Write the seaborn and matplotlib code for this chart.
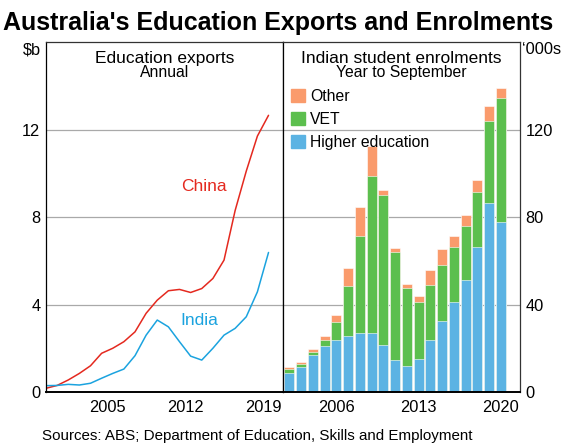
import numpy as np
import pandas as pd
import matplotlib
matplotlib.use("Agg")
import matplotlib.pyplot as plt
import seaborn as sns
from matplotlib.patches import Patch

# ==========================================================
# DATA
# ==========================================================

# Education exports, $b, annual (plotted at end of each year)
export_years = list(range(1999, 2020))
china_exports = [0.17, 0.30, 0.55, 0.85, 1.20, 1.77, 2.00, 2.30, 2.75, 3.60, 4.20,
                 4.63, 4.69, 4.55, 4.73, 5.19, 6.03, 8.30, 10.10, 11.70, 12.65]
india_exports = [0.29, 0.30, 0.35, 0.32, 0.40, 0.63, 0.85, 1.05, 1.66, 2.60, 3.29,
                 2.98, 2.30, 1.64, 1.46, 2.00, 2.60, 2.91, 3.44, 4.58, 6.38]

# Indian student enrolments, '000s, year to September
enrol_years = list(range(2002, 2021))
higher_ed = [8.5, 11.6, 16.9, 21.2, 24.0, 25.7, 26.8, 27.1, 21.3, 14.8,
             11.9, 15.1, 23.9, 32.4, 41.2, 51.1, 66.1, 86.3, 77.7]
vet = [2.1, 1.3, 1.4, 2.8, 8.1, 22.9, 44.6, 71.8, 68.7, 49.1,
       35.7, 26.0, 25.0, 25.7, 24.9, 24.9, 25.4, 37.4, 56.7]
other = [0.8, 0.9, 1.5, 1.7, 3.1, 7.9, 13.2, 13.4, 2.5, 2.0,
         1.9, 2.9, 7.1, 7.5, 5.3, 4.8, 5.3, 7.0, 4.6]

left_xlabels = [2005, 2012, 2019]
right_xlabels = [2006, 2013, 2020]

# colours
RED = "#E4291F"
BLUE = "#1BA3DF"
C_OTHER = "#FA9B6C"
C_VET = "#5CBF4E"
C_HE = "#5BB3E3"
GRID = "#A9A9A9"

# ==========================================================
# STYLE
# ==========================================================

sns.set_style("white")
plt.rcParams["font.family"] = ["Liberation Sans", "DejaVu Sans"]
plt.rcParams["font.size"] = 11.8
plt.rcParams["text.color"] = "black"
plt.rcParams["xtick.color"] = "black"
plt.rcParams["ytick.color"] = "black"
plt.rcParams["xtick.labelcolor"] = "black"
plt.rcParams["ytick.labelcolor"] = "black"

fig = plt.figure(figsize=(5.67, 4.43), dpi=100)
ax1 = fig.add_axes([0.0811, 0.1151, 0.418, 0.790])
ax2 = fig.add_axes([0.4991, 0.1151, 0.418, 0.790])

# ==========================================================
# LEFT PANEL - EDUCATION EXPORTS
# ==========================================================

df_exp = pd.DataFrame({
    "x": [y + 1.0 for y in export_years],
    "China": china_exports,
    "India": india_exports,
})

sns.lineplot(data=df_exp, x="x", y="China", ax=ax1, color=RED, linewidth=1.1)
sns.lineplot(data=df_exp, x="x", y="India", ax=ax1, color=BLUE, linewidth=1.1)

ax1.set_xlim(2000, 2021.3)
ax1.set_ylim(0, 16)
ax1.set_yticks([0, 4, 8, 12])
ax1.set_yticklabels(["0", "4", "8", "12"])
ax1.yaxis.grid(True, color=GRID, linewidth=0.9)
ax1.set_axisbelow(True)

ax1.set_xticks(range(2001, 2022))
ax1.set_xticklabels([])
ax1.set_xticks([y + 0.5 for y in left_xlabels], minor=True)
ax1.set_xticklabels([str(y) for y in left_xlabels], minor=True)
ax1.tick_params(axis="x", which="major", direction="in", length=5,
                width=1, color="black")
ax1.tick_params(axis="x", which="minor", length=0, pad=6)
ax1.tick_params(axis="y", length=0, pad=4)
ax1.set_xlabel("")
ax1.set_ylabel("")

ax1.text(0.5, 0.975, "Education exports", transform=ax1.transAxes,
         ha="center", va="top", fontsize=12.5)
ax1.text(0.5, 0.914, "Annual", transform=ax1.transAxes,
         ha="center", va="center", fontsize=11.3)
ax1.text(2014.2, 9.2, "China", color=RED, fontsize=12.5, ha="center")
ax1.text(2013.8, 3.05, "India", color=BLUE, fontsize=12.5, ha="center")
ax1.text(-0.02, 1.0, "$b", transform=ax1.transAxes, ha="right", va="top")

# ==========================================================
# RIGHT PANEL - INDIAN STUDENT ENROLMENTS (stacked bars)
# ==========================================================

he_vet = [h + v for h, v in zip(higher_ed, vet)]
total = [h + v + o for h, v, o in zip(higher_ed, vet, other)]

for values, colour in [(total, C_OTHER), (he_vet, C_VET), (higher_ed, C_HE)]:
    sns.barplot(x=enrol_years, y=values, ax=ax2, native_scale=True,
                color=colour, width=0.85, saturation=1,
                edgecolor="white", linewidth=0.4)

ax2.set_xlim(2001.46, 2021.62)
ax2.set_ylim(0, 160)
ax2.yaxis.tick_right()
ax2.set_yticks([0, 40, 80, 120])
ax2.set_yticklabels(["0", "40", "80", "120"])
ax2.yaxis.grid(True, color=GRID, linewidth=0.9)
ax2.set_axisbelow(True)

ax2.set_xticks([y + 0.5 for y in range(2001, 2021)])
ax2.set_xticklabels([])
ax2.set_xticks(right_xlabels, minor=True)
ax2.set_xticklabels([str(y) for y in right_xlabels], minor=True)
ax2.tick_params(axis="x", which="major", direction="in", length=5,
                width=1, color="black")
ax2.tick_params(axis="x", which="minor", length=0, pad=6)
ax2.tick_params(axis="y", length=0, pad=4)
ax2.set_xlabel("")
ax2.set_ylabel("")

ax2.text(0.5, 0.975, "Indian student enrolments", transform=ax2.transAxes,
         ha="center", va="top", fontsize=12.5)
ax2.text(0.5, 0.914, "Year to September", transform=ax2.transAxes,
         ha="center", va="center", fontsize=11.3)
ax2.text(1.01, 1.0, "\u2018000s", transform=ax2.transAxes, ha="left", va="top")

handles = [Patch(color=C_OTHER), Patch(color=C_VET), Patch(color=C_HE)]
ax2.legend(handles, ["Other", "VET", "Higher education"],
           loc="upper left", bbox_to_anchor=(0.035, 0.865), frameon=False,
           fontsize=11.3, handlelength=0.9, handleheight=0.9,
           handletextpad=0.3, labelspacing=0.5, borderpad=0, borderaxespad=0)

# spines
for ax in (ax1, ax2):
    for side in ["top", "right", "left"]:
        ax.spines[side].set_color("#333333")
        ax.spines[side].set_linewidth(0.9)
    ax.spines["bottom"].set_color("black")
    ax.spines["bottom"].set_linewidth(1.4)
ax1.spines["left"].set_color("black")
ax2.spines["left"].set_color("black")

# ==========================================================
# TITLE AND SOURCE
# ==========================================================

fig.text(0.490, 0.948, "Australia's Education Exports and Enrolments",
         ha="center", va="center", fontsize=18, fontweight="bold", color="black")
fig.text(0.074, 0.016, "Sources: ABS; Department of Education, Skills and Employment",
         ha="left", va="center", fontsize=10.9, color="black")

fig.savefig("out.png", dpi=100)
